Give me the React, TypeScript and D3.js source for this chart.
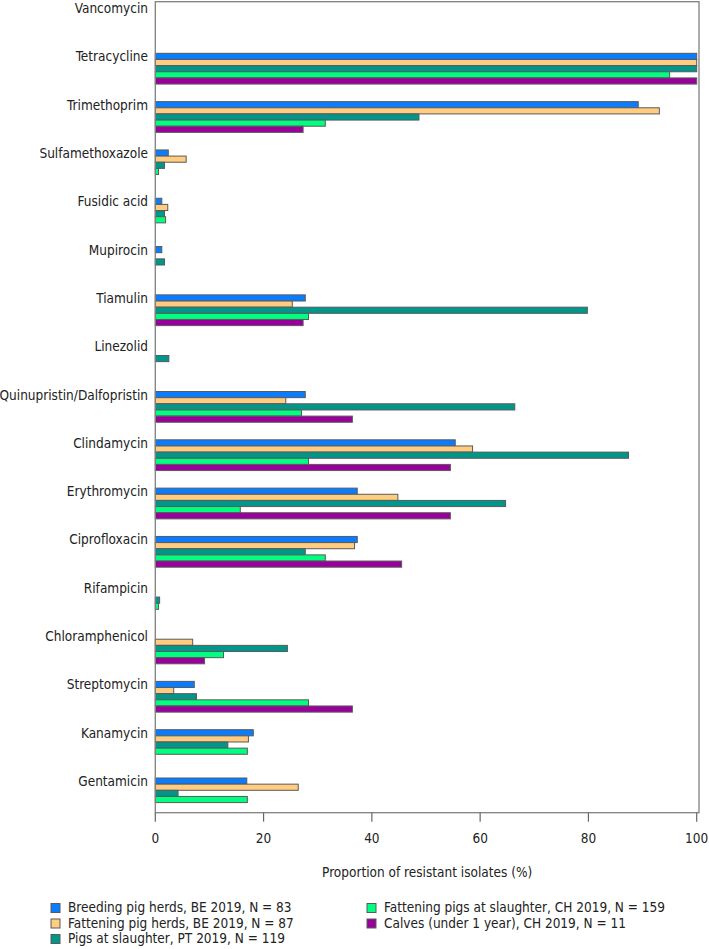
import React from "react";
import * as d3 from "d3";

const categories = [
  "Vancomycin", "Tetracycline", "Trimethoprim", "Sulfamethoxazole", "Fusidic acid",
  "Mupirocin", "Tiamulin", "Linezolid", "Quinupristin/Dalfopristin", "Clindamycin",
  "Erythromycin", "Ciprofloxacin", "Rifampicin", "Chloramphenicol", "Streptomycin",
  "Kanamycin", "Gentamicin",
];

const seriesNames = [
  "Breeding pig herds, BE 2019, N = 83",
  "Fattening pig herds, BE 2019, N = 87",
  "Pigs at slaughter, PT 2019, N = 119",
  "Fattening pigs at slaughter, CH 2019, N = 159",
  "Calves (under 1 year), CH 2019, N = 11",
];

const breedingBE = [0, 100, 89.2, 2.4, 1.2, 1.2, 27.7, 0, 27.7, 55.4, 37.3, 37.3, 0, 0, 7.2, 18.1, 16.9];
const fatteningBE = [0, 100, 93.1, 5.7, 2.3, 0, 25.3, 0, 24.1, 58.6, 44.8, 36.8, 0, 6.9, 3.4, 17.2, 26.4];
const slaughterPT = [0, 100, 48.7, 1.7, 1.7, 1.7, 79.8, 2.5, 66.4, 87.4, 64.7, 27.7, 0.8, 24.4, 7.6, 13.4, 4.2];
const slaughterCH = [0, 95.0, 31.4, 0.6, 1.9, 0, 28.3, 0, 27.0, 28.3, 15.7, 31.4, 0.6, 12.6, 28.3, 17.0, 17.0];
const calvesCH = [0, 100, 27.3, 0, 0, 0, 27.3, 0, 36.4, 54.5, 54.5, 45.5, 0, 9.1, 36.4, 0, 0];

const seriesValues = [breedingBE, fatteningBE, slaughterPT, slaughterCH, calvesCH];
const colors = ["#0a7cff", "#ffcc80", "#00968a", "#00ff80", "#990099"];
const xTicks = [0, 20, 40, 60, 80, 100];

const FONT = "'DejaVu Sans Condensed', 'Liberation Sans', Arial, sans-serif";

export default function App() {
  const W = 709, H = 949;
  const frameL = 155.3, frameR = 699, frameT = 1.7, frameB = 812.7;
  const x = d3.scaleLinear().domain([0, 100]).range([155.3, 696.7]);
  const yTop = d3.scaleLinear().domain([0, categories.length - 1]).range([5.0, 778.0]);
  const barH = 6.15;
  const stroke = "#5a5a5a";
  const fs = 13.5;

  const legendPos = [
    { x: 51, y: 908 },
    { x: 51, y: 923.5 },
    { x: 51, y: 939 },
    { x: 367, y: 908 },
    { x: 367, y: 923.5 },
  ];

  return (
    <svg width={W} height={H} style={{ position: "absolute", left: 0, top: 0, background: "#fff" }} fontFamily={FONT}>
      <rect x={0} y={0} width={W} height={H} fill="#fff" />
      {categories.map((c, i) => (
        <g key={c}>
          {seriesValues.map((vals, s) =>
            vals[i] > 0 ? (
              <rect
                key={s}
                x={x(0)}
                y={yTop(i) + s * barH}
                width={x(vals[i]) - x(0)}
                height={barH}
                fill={colors[s]}
                stroke={stroke}
                strokeWidth={1}
              />
            ) : null
          )}
          <text x={148} y={yTop(i) + 4} textAnchor="end" dominantBaseline="middle" fontSize={fs} fill="#222">
            {c}
          </text>
        </g>
      ))}
      <rect x={frameL} y={frameT} width={frameR - frameL} height={frameB - frameT} fill="none" stroke="#808080" strokeWidth={1.3} />
      {xTicks.map((t) => (
        <g key={t}>
          <line x1={x(t)} x2={x(t)} y1={frameB} y2={frameB + 9} stroke="#666" strokeWidth={1.2} />
          <text x={x(t)} y={839} textAnchor="middle" dominantBaseline="middle" fontSize={fs} fill="#222">
            {t}
          </text>
        </g>
      ))}
      <text x={(frameL + frameR) / 2} y={873} textAnchor="middle" dominantBaseline="middle" fontSize={fs} fill="#222">
        Proportion of resistant isolates (%)
      </text>
      {seriesNames.map((n, s) => (
        <g key={n}>
          <rect x={legendPos[s].x} y={legendPos[s].y - 4.5} width={9} height={9} fill={colors[s]} stroke={stroke} strokeWidth={1} />
          <text x={legendPos[s].x + 17} y={legendPos[s].y} dominantBaseline="middle" fontSize={fs} fill="#222">
            {n}
          </text>
        </g>
      ))}
    </svg>
  );
}
